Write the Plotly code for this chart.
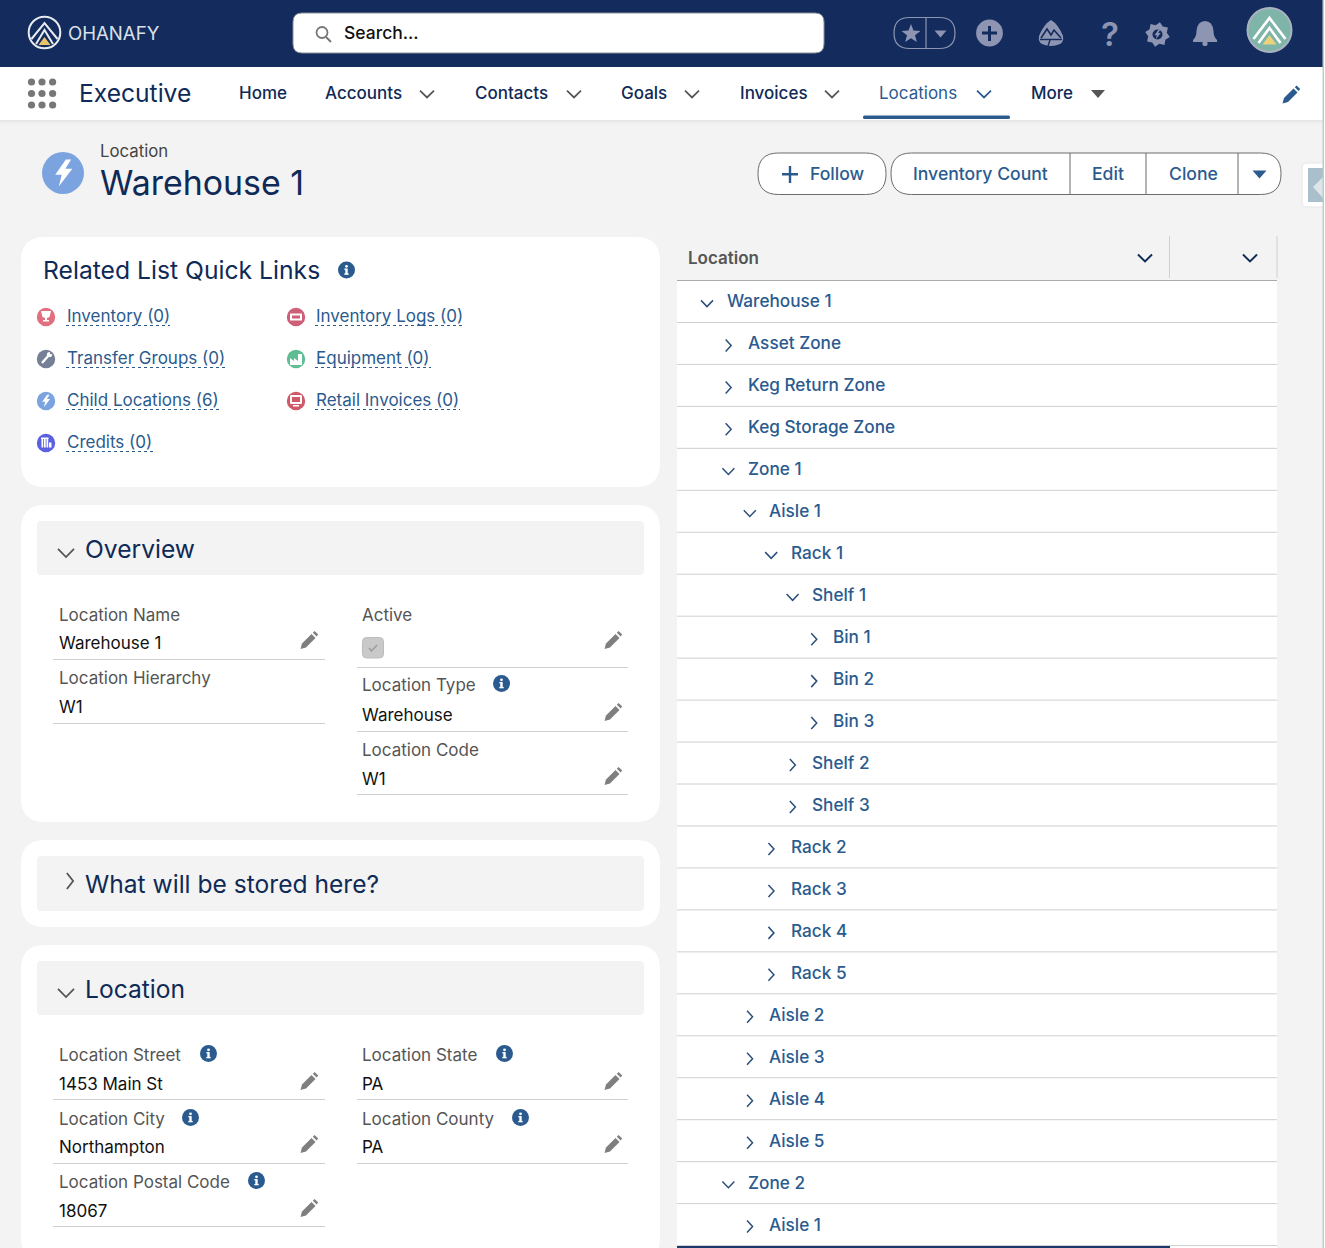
"""Ohanafy location record page, drawn as a plotly figure (shapes + annotations)."""

import math

import plotly.graph_objects as go

# ---- content ----
nav_items = ["Home", "Accounts", "Contacts", "Goals", "Invoices", "Locations", "More"]
action_buttons = ["Inventory Count", "Edit", "Clone"]

tree_labels = ["Warehouse 1", "Asset Zone", "Keg Return Zone", "Keg Storage Zone", "Zone 1",
               "Aisle 1", "Rack 1", "Shelf 1", "Bin 1", "Bin 2", "Bin 3", "Shelf 2", "Shelf 3",
               "Rack 2", "Rack 3", "Rack 4", "Rack 5", "Aisle 2", "Aisle 3", "Aisle 4", "Aisle 5",
               "Zone 2", "Aisle 1"]
tree_depths = [0, 1, 1, 1, 1, 2, 3, 4, 5, 5, 5, 4, 4, 3, 3, 3, 3, 2, 2, 2, 2, 1, 2]
tree_open = [1, 0, 0, 0, 1, 1, 1, 1, 0, 0, 0, 0, 0, 0, 0, 0, 0, 0, 0, 0, 0, 1, 0]

link_labels = ["Inventory (0)", "Transfer Groups (0)", "Child Locations (6)", "Credits (0)",
               "Inventory Logs (0)", "Equipment (0)", "Retail Invoices (0)"]

overview_labels = ["Location Name", "Location Hierarchy", "Active", "Location Type", "Location Code"]
overview_values = ["Warehouse 1", "W1", "", "Warehouse", "W1"]
location_labels = ["Location Street", "Location City", "Location Postal Code",
                   "Location State", "Location County"]
location_values = ["1453 Main St", "Northampton", "18067", "PA", "PA"]

# ---- palette ----
NAVY = "#132c5d"
INK = "#0f2a56"
LINK = "#2b5b8e"
ICON = "#8d95b2"
GREY_BG = "#f3f3f3"
RULE = "#cfcfcf"
PENCIL = "#7f7f7f"
FONT = "Inter"

shapes = []
notes = []


def text(x, y, s, size=17, color="#111111", weight=400, anchor="left"):
    notes.append(dict(x=x, y=y, text=s, showarrow=False, xanchor=anchor, yanchor="middle",
                      borderpad=0, borderwidth=0,
                      font=dict(family=FONT, size=size, color=color, weight=weight)))


def rrect(x0, y0, x1, y1, r=0, fill=None, line=None, lw=1):
    # plotly paths have no arc command, so the corners are quadratic curves
    p = (f"M{x0 + r},{y0} L{x1 - r},{y0} Q{x1},{y0} {x1},{y0 + r} L{x1},{y1 - r} "
         f"Q{x1},{y1} {x1 - r},{y1} L{x0 + r},{y1} Q{x0},{y1} {x0},{y1 - r} "
         f"L{x0},{y0 + r} Q{x0},{y0} {x0 + r},{y0} Z")
    shapes.append(dict(type="path", path=p, fillcolor=fill or "rgba(0,0,0,0)",
                       line=dict(color=line or "rgba(0,0,0,0)", width=lw if line else 0)))


def rect(x0, y0, x1, y1, fill):
    shapes.append(dict(type="rect", x0=x0, y0=y0, x1=x1, y1=y1, fillcolor=fill, line=dict(width=0)))


def seg(x0, y0, x1, y1, color=RULE, lw=1, dash=None):
    shapes.append(dict(type="line", x0=x0, y0=y0, x1=x1, y1=y1,
                       line=dict(color=color, width=lw, dash=dash or "solid")))


def circle(cx, cy, r, fill=None, line=None, lw=1):
    shapes.append(dict(type="circle", x0=cx - r, y0=cy - r, x1=cx + r, y1=cy + r,
                       fillcolor=fill or "rgba(0,0,0,0)",
                       line=dict(color=line or "rgba(0,0,0,0)", width=lw if line else 0)))


def poly(cx, cy, pts, fill=None, line=None, lw=1, closed=True):
    p = "M" + " L".join(f"{cx + a},{cy + b}" for a, b in pts) + (" Z" if closed else "")
    shapes.append(dict(type="path", path=p, fillcolor=fill or "rgba(0,0,0,0)",
                       line=dict(color=line or "rgba(0,0,0,0)", width=lw if line else 0)))


def chev_down(cx, cy, color="#555555", w=7, h=5.5, lw=1.7):
    poly(cx, cy, [(-w, -h / 1.6), (0, h / 1.6), (w, -h / 1.6)], line=color, lw=lw, closed=False)


def chev_right(cx, cy, color="#555555", w=4, h=6, lw=1.6):
    poly(cx, cy, [(-w / 1.6, -h), (w / 1.6, 0), (-w / 1.6, h)], line=color, lw=lw, closed=False)


def tri_down(cx, cy, color, w=7, h=6):
    poly(cx, cy, [(-w, -h / 2), (w, -h / 2), (0, h / 2)], fill=color)


def pencil(cx, cy, color=PENCIL, k=1.0):
    body = [(-8.5, 9), (-7, 3.5), (2.5, -6), (6.5, -2), (-3, 7.5)]
    cap = [(3.8, -7.3), (5.6, -9), (9.2, -5.4), (7.6, -3.5)]
    poly(cx, cy, [(a * k, b * k) for a, b in body], fill=color)
    poly(cx, cy, [(a * k, b * k) for a, b in cap], fill=color)


def info(cx, cy, r=8.5):
    circle(cx, cy, r, fill=LINK)
    rect(cx - 1.2, cy - 1.4, cx + 1.2, cy + 4.2, "#ffffff")
    rect(cx - 2.2, cy + 3.4, cx + 2.2, cy + 4.8, "#ffffff")
    rect(cx - 2.2, cy - 1.4, cx, cy - 0.2, "#ffffff")
    circle(cx, cy - 3.7, 1.4, fill="#ffffff")


def bolt(cx, cy, k=1.0, color="#ffffff"):
    pts = [(2, -11.5), (-7, 1.5), (-1.5, 1.5), (-4, 11.5), (7.5, -3.5), (1.5, -3.5), (6.5, -11.5)]
    poly(cx, cy, [(a * k, b * k) for a, b in pts], fill=color)


def star(cx, cy, r, color):
    pts = []
    for i in range(10):
        rad = r if i % 2 == 0 else r * 0.42
        ang = -math.pi / 2 + i * math.pi / 5
        pts.append((rad * math.cos(ang), rad * math.sin(ang)))
    poly(cx, cy, pts, fill=color)


# ---- top bar ----
rect(0, 0, 1325, 67, NAVY)
circle(44.5, 32.5, 15.8, line="#e8ebf0", lw=2)
poly(44.5, 33, [(-13, 6), (0, -10), (13, 6)], line="#e8ebf0", lw=2, closed=False)
poly(44.5, 33, [(-8.5, 11), (0, -3), (8.5, 11)], line="#e8ebf0", lw=2, closed=False)
poly(44.5, 33, [(-6, 12), (0, 4), (6, 12)], fill="#e9c46a")
text(68, 33, "OHANAFY", size=18.6, color="#dbe0e8", weight=400)

rrect(293, 13, 824, 53, r=9, fill="#ffffff", line="#8a8f99", lw=1)
circle(322, 32.5, 5.5, line="#777777", lw=1.8)
seg(326, 37, 331, 42, "#777777", 2)
text(344, 32.5, "Search...", size=17.5, color="#111111", weight=500)

rrect(894, 17.5, 955, 48.5, r=15.5, line=ICON, lw=1.2)
seg(926, 17.5, 926, 48.5, ICON, 1.2)
star(911, 34, 10, ICON)
tri_down(940.5, 34, ICON, w=6, h=7)
circle(989.5, 33, 13.4, fill=ICON)
rect(982, 31.5, 997, 34.5, NAVY)
rect(988, 26, 991, 41, NAVY)
# org switcher style icon
shapes.append(dict(type="path", fillcolor=ICON, line=dict(width=0),
                   path="M1051,20 Q1058,24 1063,36 Q1064,42 1060,44 Q1051,48 1042,44 Q1038,42 1039,36 Q1044,24 1051,20 Z"))
poly(1051, 33, [(-10, 5), (-4, -4), (0, 2), (3, -3), (10, 5)], line=NAVY, lw=1.6, closed=False)
seg(1040, 39.5, 1062, 39.5, NAVY, 1.4)
seg(1050, 40, 1048, 46, NAVY, 1.4)
text(1109.5, 34, "?", size=33, color=ICON, weight=600, anchor="center")
gear = []
for i in range(16):
    ang = i * math.pi / 8 + math.pi / 16
    rad = 12.5 if i % 2 == 0 else 9.5
    gear.append((rad * math.cos(ang), rad * math.sin(ang)))
poly(1157.5, 34.5, gear, fill=ICON)
circle(1157.5, 34.5, 5, fill=NAVY)
bolt(1157.5, 34.5, k=0.42, color=ICON)
shapes.append(dict(type="path", fillcolor=ICON, line=dict(width=0),
                   path="M1205,21 Q1212.5,21 1213.5,31 Q1213.5,37 1217,40 L1217,42 L1193,42 L1193,40 Q1196.5,37 1196.5,31 Q1197.5,21 1205,21 Z"))
circle(1205, 43.5, 2.6, fill=ICON)
circle(1269.5, 30, 22, fill="#7fb5a8", line="#aab2c0", lw=2)
poly(1269.5, 30, [(-16, 9), (0, -12), (16, 9)], line="#ffffff", lw=2.6, closed=False)
poly(1269.5, 30, [(-11, 13), (0, -2), (11, 13)], line="#ffffff", lw=2.6, closed=False)
poly(1269.5, 30, [(-7, 14.5), (0, 5), (7, 14.5)], fill="#e9d27a")

# ---- app nav ----
rect(0, 67, 1325, 120, "#ffffff")
for k, col in enumerate(["#e6e6e6", "#eaeaea", "#eeeeee", "#f0f0f0", "#f2f2f2"]):
    rect(0, 120 + k, 1325, 121 + k, col)
for dx in (31.5, 42, 52.6):
    for dy in (82, 93.5, 105):
        circle(dx, dy, 3.6, fill="#777777")
text(79, 93, "Executive", size=24.6, color=INK)

nav_x = [239, 325, 475, 621, 740, 879, 1031]
nav_chev = [None, 427, 574, 692, 832, 984, None]
for name, x, cx in zip(nav_items, nav_x, nav_chev):
    active = name == "Locations"
    text(x, 93, name, size=17, color=LINK if active else INK, weight=500 if not active else 400)
    if cx:
        chev_down(cx, 94, LINK if active else "#555555")
tri_down(1098, 94, "#555555", w=7, h=8)
rrect(863, 115.5, 1010, 119, r=1.5, fill=LINK)
pencil(1291, 94.5, LINK)

# ---- page header ----
circle(63, 173, 21, fill="#7aa3e0")
bolt(63.5, 173, k=1.18)
text(100, 151, "Location", size=16.8, color="#444444")
text(100, 182.5, "Warehouse 1", size=33.9, color=INK)

rrect(758, 153, 886, 194.5, r=20.5, fill="#ffffff", line="#6b6b6b", lw=1)
rect(782, 173, 798, 175.5, LINK)
rect(788.8, 166, 791.2, 183, LINK)
text(810, 173.5, "Follow", size=17.6, color=LINK, weight=500)

rrect(891, 153, 1281, 194.5, r=20.5, fill="#ffffff", line="#6b6b6b", lw=1)
for x in (1070, 1146, 1238):
    seg(x, 153, x, 194.5, "#6b6b6b", 1)
for name, x in zip(action_buttons, [913, 1092, 1169]):
    text(x, 173.5, name, size=17.6, color=LINK, weight=500)
tri_down(1259.5, 174.5, LINK, w=7, h=8)

rrect(1302, 163, 1330, 207, r=5, fill="#ffffff", line="#e6e6e6", lw=1)
rect(1308, 168, 1323, 202, "#a9c0cc")
poly(0, 0, [(1323, 177), (1323, 198), (1313, 187)], fill="#dbe5ea")

# ---- related list card ----
rrect(21, 237, 660, 487, r=24, fill="#ffffff")
text(43, 270, "Related List Quick Links", size=24.7, color=INK)
info(346.5, 270)

link_colors = ["#e0707f", "#757f96", "#7aa3e0", "#5b60e0", "#cd5f78", "#5fbd93", "#cf5968"]
link_icon_x = [46, 46, 46, 46, 296, 296, 296]
link_text_x = [67, 67, 67, 67, 316, 316, 316]
link_y = [316, 358, 400, 442, 316, 358, 400]
link_end = [169, 224, 218, 152, 462, 430, 459]
for name, col, ix, tx, y, end in zip(link_labels, link_colors, link_icon_x, link_text_x, link_y, link_end):
    circle(ix, y + 1, 9.2, fill=col)
    text(tx, y, name, size=17, color=LINK)
    seg(tx - 1, y + 9.5, end + 1, y + 9.5, LINK, 1, dash="dot")
# little glyphs inside the link icons
poly(46, 316, [(-5, -5), (5, -5), (3.5, 1), (1, 2), (1, 4), (3, 4), (3, 5.5), (-3, 5.5), (-3, 4), (-1, 4), (-1, 2), (-3.5, 1)], fill="#ffffff")
seg(42, 363, 49, 355, "#ffffff", 2.4)
circle(49.5, 354.5, 2.6, fill="#ffffff")
circle(51, 353, 1.2, fill="#757f96")
bolt(46, 401, k=0.55)
for gx in (41.5, 44, 46.5):
    rect(gx, 438, gx + 1.7, 447.5, "#ffffff")
rect(41, 437.5, 48.5, 439, "#ffffff")
rect(49, 442.5, 51.5, 447.5, "#ffffff")
rect(290, 313.5, 302, 320.5, "#ffffff")
rect(292, 315.5, 300, 318.5, "#cd5f78")
poly(296, 359, [(-6, 6), (-6, -1), (-2, 2), (-2, -1), (2, 2), (2, -5), (6, -5), (6, 6)], fill="#ffffff")
rrect(290, 395, 302, 404, r=1, fill="#ffffff")
rect(292, 397, 300, 402, "#cf5968")
rect(293, 405, 299, 406.5, "#ffffff")


# ---- collapsible sections ----
def section(y0, y1, hy0, hy1, title, title_y, is_open=True):
    rrect(21, y0, 660, y1, r=24, fill="#ffffff")
    rrect(37, hy0, 644, hy1, r=4, fill=GREY_BG)
    if is_open:
        chev_down(66, hy0 + 32, "#555555", w=8, h=6.5, lw=1.8)
    else:
        chev_right(70, hy0 + 25, "#555555", w=5, h=8, lw=1.8)
    text(85, title_y, title, size=24.6, color=INK)


def field(x, y_label, y_value, y_rule, label, value, info_x=None, pen_y=None):
    col_left = x < 200
    rule_x0, rule_x1 = (53, 325) if col_left else (357, 628)
    text(x, y_label, label, color="#555555")
    if info_x:
        info(info_x, y_label - 1.5)
    if value:
        text(x, y_value, value, color="#111111")
    seg(rule_x0, y_rule, rule_x1, y_rule, RULE, 1)
    if pen_y:
        pencil(309 if col_left else 613, pen_y)


section(505, 822, 521, 575, "Overview", 549)
field(59, 615, 643, 659.5, overview_labels[0], overview_values[0], pen_y=640)
field(59, 678, 707, 723.5, overview_labels[1], overview_values[1])
field(362, 615, 648, 667.5, overview_labels[2], overview_values[2], pen_y=640)
rrect(362.5, 637.5, 383.5, 658, r=4, fill="#c9c9c9", line="#bdbdbd", lw=1)
poly(373, 648, [(-4, 0), (-1.5, 3), (4, -3)], line="#9a9a9a", lw=1.4, closed=False)
field(362, 685, 715, 731.5, overview_labels[3], overview_values[3], info_x=501.5, pen_y=712)
field(362, 750, 779, 794.5, overview_labels[4], overview_values[4], pen_y=776)

section(840, 927, 856, 911, "What will be stored here?", 884, is_open=False)

section(945, 1262, 961, 1015, "Location", 989)
field(59, 1055, 1084, 1099.5, location_labels[0], location_values[0], info_x=208.5, pen_y=1081)
field(59, 1119, 1147, 1163.5, location_labels[1], location_values[1], info_x=190.5, pen_y=1144)
field(59, 1182, 1211, 1226.5, location_labels[2], location_values[2], info_x=256.5, pen_y=1208)
field(362, 1055, 1084, 1099.5, location_labels[3], location_values[3], info_x=504.5, pen_y=1081)
field(362, 1119, 1147, 1163.5, location_labels[4], location_values[4], info_x=520.5, pen_y=1144)

# ---- location tree ----
TREE_L, TREE_R = 677, 1277
ROW0, ROW_H = 280.5, 41.96
rect(TREE_L, ROW0, TREE_R, 1248, "#ffffff")
text(688, 258, "Location", size=17, color="#555555", weight=600)
chev_down(1145, 258, INK, w=7, h=5.5, lw=2)
chev_down(1250, 258, INK, w=7, h=5.5, lw=2)
seg(1169.5, 236, 1169.5, 278, RULE, 1)
seg(1277, 236, 1277, 278, RULE, 1)
seg(TREE_L, ROW0, TREE_R, ROW0, "#ababab", 1.2)

for i, (name, depth, is_open) in enumerate(zip(tree_labels, tree_depths, tree_open)):
    mid = ROW0 + ROW_H * (i + 0.5)
    chev_x = 707 + depth * 21.4
    if is_open:
        chev_down(chev_x, mid + 2, "#2a4f7c", w=6, h=5, lw=1.5)
    else:
        chev_right(chev_x, mid + 2, "#2a4f7c", w=4.4, h=6, lw=1.5)
    text(727 + depth * 21.2, mid - 0.6, name, size=17.2, color=LINK, weight=500)
    seg(TREE_L, ROW0 + ROW_H * (i + 1), TREE_R, ROW0 + ROW_H * (i + 1), RULE, 1)
rect(TREE_L, 1246, 1170, 1248, "#1b3a6b")

# window edge of the screenshot
rect(1322.5, 0, 1324, 1248, "#c8c8c8")
rect(1324, 0, 1325, 1248, "#ffffff")

fig = go.Figure()
fig.update_layout(
    width=1325, height=1248, margin=dict(l=0, r=0, t=0, b=0),
    paper_bgcolor=GREY_BG, plot_bgcolor=GREY_BG, showlegend=False,
    xaxis=dict(range=[0, 1325], visible=False, fixedrange=True),
    yaxis=dict(range=[1248, 0], visible=False, fixedrange=True),
    shapes=shapes, annotations=notes,
)
fig.write_html("out.html", config={"displayModeBar": False},
               post_script="document.body.style.margin='0';")
